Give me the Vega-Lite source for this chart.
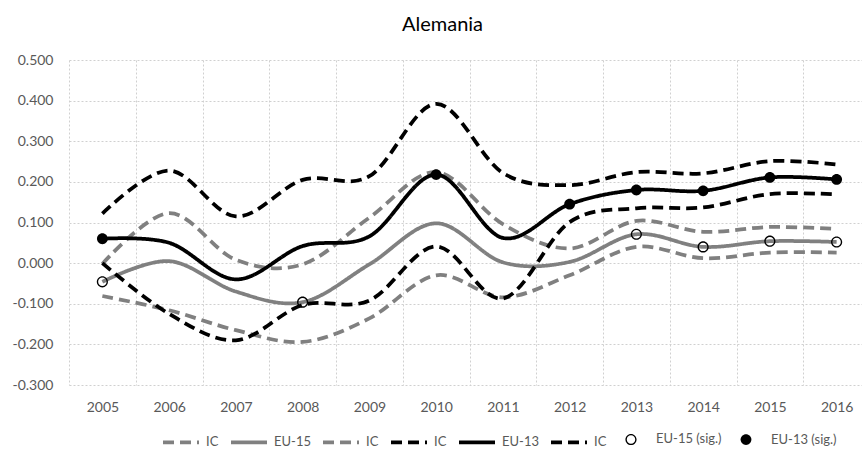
{
  "$schema": "https://vega.github.io/schema/vega-lite/v6.json",
  "autosize": {"type": "none"},
  "padding": {"left": 69, "top": 60, "right": 0, "bottom": 67},
  "width": 793,
  "height": 325,
  "background": "white",
  "title": {"text": "Alemania", "font": "Lato", "fontSize": 20, "fontWeight": "normal", "color": "#000000", "offset": 18, "dx": -23},
  "config": {
    "view": {"stroke": null},
    "font": "Lato"
  },
  "datasets": {
    "lines": [
      {"year": 2005, "series": "IC 15 sup", "value": -0.002},
      {"year": 2006, "series": "IC 15 sup", "value": 0.123},
      {"year": 2007, "series": "IC 15 sup", "value": 0.008},
      {"year": 2008, "series": "IC 15 sup", "value": -0.003},
      {"year": 2009, "series": "IC 15 sup", "value": 0.112},
      {"year": 2010, "series": "IC 15 sup", "value": 0.224},
      {"year": 2011, "series": "IC 15 sup", "value": 0.096},
      {"year": 2012, "series": "IC 15 sup", "value": 0.036},
      {"year": 2013, "series": "IC 15 sup", "value": 0.104},
      {"year": 2014, "series": "IC 15 sup", "value": 0.077},
      {"year": 2015, "series": "IC 15 sup", "value": 0.089},
      {"year": 2016, "series": "IC 15 sup", "value": 0.084},
      {"year": 2005, "series": "IC 15 inf", "value": -0.081},
      {"year": 2006, "series": "IC 15 inf", "value": -0.116},
      {"year": 2007, "series": "IC 15 inf", "value": -0.165},
      {"year": 2008, "series": "IC 15 inf", "value": -0.194},
      {"year": 2009, "series": "IC 15 inf", "value": -0.136},
      {"year": 2010, "series": "IC 15 inf", "value": -0.030},
      {"year": 2011, "series": "IC 15 inf", "value": -0.084},
      {"year": 2012, "series": "IC 15 inf", "value": -0.030},
      {"year": 2013, "series": "IC 15 inf", "value": 0.040},
      {"year": 2014, "series": "IC 15 inf", "value": 0.012},
      {"year": 2015, "series": "IC 15 inf", "value": 0.026},
      {"year": 2016, "series": "IC 15 inf", "value": 0.026},
      {"year": 2005, "series": "EU-15", "value": -0.046},
      {"year": 2006, "series": "EU-15", "value": 0.005},
      {"year": 2007, "series": "EU-15", "value": -0.070},
      {"year": 2008, "series": "EU-15", "value": -0.096},
      {"year": 2009, "series": "EU-15", "value": -0.003},
      {"year": 2010, "series": "EU-15", "value": 0.098},
      {"year": 2011, "series": "EU-15", "value": 0.002},
      {"year": 2012, "series": "EU-15", "value": 0.003},
      {"year": 2013, "series": "EU-15", "value": 0.071},
      {"year": 2014, "series": "EU-15", "value": 0.040},
      {"year": 2015, "series": "EU-15", "value": 0.054},
      {"year": 2016, "series": "EU-15", "value": 0.052},
      {"year": 2005, "series": "IC 13 sup", "value": 0.122},
      {"year": 2006, "series": "IC 13 sup", "value": 0.228},
      {"year": 2007, "series": "IC 13 sup", "value": 0.115},
      {"year": 2008, "series": "IC 13 sup", "value": 0.205},
      {"year": 2009, "series": "IC 13 sup", "value": 0.214},
      {"year": 2010, "series": "IC 13 sup", "value": 0.392},
      {"year": 2011, "series": "IC 13 sup", "value": 0.222},
      {"year": 2012, "series": "IC 13 sup", "value": 0.192},
      {"year": 2013, "series": "IC 13 sup", "value": 0.224},
      {"year": 2014, "series": "IC 13 sup", "value": 0.221},
      {"year": 2015, "series": "IC 13 sup", "value": 0.251},
      {"year": 2016, "series": "IC 13 sup", "value": 0.243},
      {"year": 2005, "series": "IC 13 inf", "value": 0.000},
      {"year": 2006, "series": "IC 13 inf", "value": -0.125},
      {"year": 2007, "series": "IC 13 inf", "value": -0.190},
      {"year": 2008, "series": "IC 13 inf", "value": -0.103},
      {"year": 2009, "series": "IC 13 inf", "value": -0.092},
      {"year": 2010, "series": "IC 13 inf", "value": 0.041},
      {"year": 2011, "series": "IC 13 inf", "value": -0.087},
      {"year": 2012, "series": "IC 13 inf", "value": 0.101},
      {"year": 2013, "series": "IC 13 inf", "value": 0.135},
      {"year": 2014, "series": "IC 13 inf", "value": 0.137},
      {"year": 2015, "series": "IC 13 inf", "value": 0.170},
      {"year": 2016, "series": "IC 13 inf", "value": 0.169},
      {"year": 2005, "series": "EU-13", "value": 0.060},
      {"year": 2006, "series": "EU-13", "value": 0.050},
      {"year": 2007, "series": "EU-13", "value": -0.040},
      {"year": 2008, "series": "EU-13", "value": 0.042},
      {"year": 2009, "series": "EU-13", "value": 0.066},
      {"year": 2010, "series": "EU-13", "value": 0.218},
      {"year": 2011, "series": "EU-13", "value": 0.062},
      {"year": 2012, "series": "EU-13", "value": 0.145},
      {"year": 2013, "series": "EU-13", "value": 0.180},
      {"year": 2014, "series": "EU-13", "value": 0.178},
      {"year": 2015, "series": "EU-13", "value": 0.211},
      {"year": 2016, "series": "EU-13", "value": 0.206}
    ],
    "sig": [
      {"year": 2005, "series": "EU-15 (sig.)", "value": -0.046},
      {"year": 2008, "series": "EU-15 (sig.)", "value": -0.096},
      {"year": 2013, "series": "EU-15 (sig.)", "value": 0.071},
      {"year": 2014, "series": "EU-15 (sig.)", "value": 0.040},
      {"year": 2015, "series": "EU-15 (sig.)", "value": 0.054},
      {"year": 2016, "series": "EU-15 (sig.)", "value": 0.052},
      {"year": 2005, "series": "EU-13 (sig.)", "value": 0.060},
      {"year": 2010, "series": "EU-13 (sig.)", "value": 0.218},
      {"year": 2012, "series": "EU-13 (sig.)", "value": 0.145},
      {"year": 2013, "series": "EU-13 (sig.)", "value": 0.180},
      {"year": 2014, "series": "EU-13 (sig.)", "value": 0.178},
      {"year": 2015, "series": "EU-13 (sig.)", "value": 0.211},
      {"year": 2016, "series": "EU-13 (sig.)", "value": 0.206}
    ]
  },
  "encoding": {
    "x": {
      "field": "year", "type": "ordinal",
      "scale": {"type": "band", "range": [0, 801], "paddingInner": 0, "paddingOuter": 0},
      "axis": {"title": null, "labelAngle": 0, "labelFont": "Lato", "labelFontSize": 14, "labelColor": "#595959", "labelPadding": 15, "ticks": false, "domain": false, "grid": true, "gridDash": [2, 2], "gridColor": "#d0d0d0", "gridWidth": 1, "tickBand": "extent"}
    },
    "y": {
      "field": "value", "type": "quantitative",
      "scale": {"domain": [-0.3, 0.5], "nice": false, "zero": false},
      "axis": {"title": null, "values": [-0.3, -0.2, -0.1, 0, 0.1, 0.2, 0.3, 0.4, 0.5], "format": ".3f", "labelExpr": "replace(datum.label, '\u2212', '-')", "labelFont": "Lato", "labelFontSize": 14, "labelColor": "#595959", "labelPadding": 16, "ticks": false, "domain": false, "grid": true, "gridDash": [2, 2], "gridColor": "#d0d0d0", "gridWidth": 1}
    }
  },
  "layer": [
    {
      "data": {"values": [{}]},
      "mark": {"type": "rule", "color": "#d9d9d9", "strokeWidth": 1.5},
      "encoding": {"x": null, "y": {"datum": 0}}
    },
    {
      "data": {"name": "lines"},
      "mark": {"type": "line", "interpolate": "cardinal", "strokeWidth": 3.75, "strokeCap": "butt"},
      "encoding": {
        "stroke": {
          "field": "series", "type": "nominal",
          "scale": {"domain": ["IC 15 sup", "EU-15", "IC 15 inf", "IC 13 sup", "EU-13", "IC 13 inf", "EU-15 (sig.)", "EU-13 (sig.)"], "range": ["#808080", "#808080", "#808080", "#000000", "#000000", "#000000", "transparent", "transparent"]},
          "legend": {
            "orient": "none", "legendX": 92, "legendY": 359, "direction": "horizontal", "columns": 8, "title": null,
            "labelExpr": "indexof(datum.label, 'IC') === 0 ? 'IC' : datum.label",
            "labelFont": "Lato", "labelFontSize": 13, "labelColor": "#595959", "labelOffset": 5, "columnPadding": 4,
            "symbolSize": 1296, "symbolType": "stroke", "symbolStrokeWidth": 3.75
          }
        },
        "strokeDash": {
          "field": "series", "type": "nominal",
          "scale": {"domain": ["IC 15 sup", "EU-15", "IC 15 inf", "IC 13 sup", "EU-13", "IC 13 inf", "EU-15 (sig.)", "EU-13 (sig.)"], "range": [[11, 6], [1, 0], [11, 6], [11, 6], [1, 0], [11, 6], [1, 0], [1, 0]]}
        }
      }
    },
    {
      "data": {"name": "sig"},
      "mark": {"type": "point", "size": 1296, "strokeWidth": 0, "opacity": 1},
      "encoding": {
        "stroke": {"field": "series", "type": "nominal"},
        "shape": {
          "field": "series", "type": "nominal",
          "scale": {"domain": ["IC 15 sup", "EU-15", "IC 15 inf", "IC 13 sup", "EU-13", "IC 13 inf", "EU-15 (sig.)", "EU-13 (sig.)"], "range": ["stroke", "stroke", "stroke", "stroke", "stroke", "stroke", "M-0.31,0A0.31,0.31,0,1,1,0.31,0A0.31,0.31,0,1,1,-0.31,0ZM-0.235,0A0.235,0.235,0,1,0,0.235,0A0.235,0.235,0,1,0,-0.235,0Z", "M-0.3,0A0.3,0.3,0,1,1,0.3,0A0.3,0.3,0,1,1,-0.3,0Z"]}
        },
        "fill": {
          "field": "series", "type": "nominal",
          "scale": {"domain": ["IC 15 sup", "EU-15", "IC 15 inf", "IC 13 sup", "EU-13", "IC 13 inf", "EU-15 (sig.)", "EU-13 (sig.)"], "range": ["transparent", "transparent", "transparent", "transparent", "transparent", "transparent", "#000000", "#000000"]}
        }
      }
    }
  ]
}
